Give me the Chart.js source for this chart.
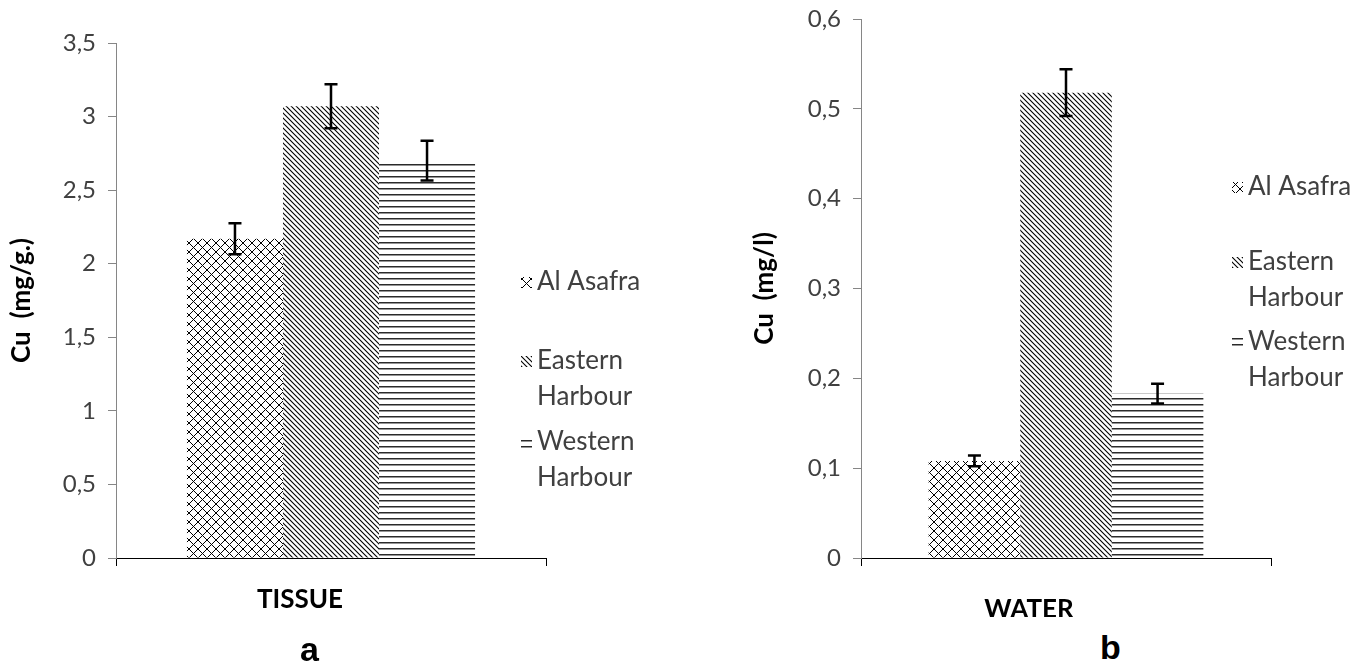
<!DOCTYPE html>
<html>
<head>
<meta charset="utf-8">
<script src="https://cdn.jsdelivr.net/npm/chart.js@4.4.1/dist/chart.umd.min.js"></script>
<style>
  body { margin: 0; background: #fff; width: 1351px; height: 668px; position: relative; overflow: hidden; }
  .panel { position: absolute; top: 0; }
  .tag { position: absolute; font: bold 34px "Liberation Sans", Arial, sans-serif; color: #000; }
</style>
</head>
<body>
<div class="panel" style="left:0;width:700px;height:668px"><canvas id="chartA"></canvas></div>
<div class="panel" style="left:700px;width:651px;height:617px"><canvas id="chartB"></canvas></div>
<div class="tag" style="left:300px;top:630px">a</div>
<div class="tag" style="left:1100px;top:628px">b</div>
<script>
const sites = ["Al Asafra", ["Eastern", "Harbour"], ["Western", "Harbour"]];
const tissueMean = [2.17, 3.07, 2.70];
const tissueErr = [0.105, 0.15, 0.135];
const waterMean = [0.108, 0.518, 0.183];
const waterErr = [0.006, 0.026, 0.011];

const textColor = "#404040";
const axisGray = "#868686";

// small tiles used as fills for the bars and the legend keys
function makePattern(kind) {
  const tile = document.createElement("canvas");
  const t = tile.getContext("2d");
  t.strokeStyle = "#333";
  if (kind === "cross") {
    tile.width = 9; tile.height = 9;
    t.lineWidth = 1;
    t.beginPath();
    t.moveTo(0, 0); t.lineTo(9, 9);
    t.moveTo(9, 0); t.lineTo(0, 9);
    t.stroke();
  } else if (kind === "diag") {
    tile.width = 5; tile.height = 5;
    t.lineWidth = 1.1;
    t.beginPath();
    t.moveTo(-1, -1); t.lineTo(6, 6);
    t.moveTo(4, -1); t.lineTo(6, 1);
    t.moveTo(-1, 4); t.lineTo(1, 6);
    t.stroke();
  } else {
    tile.width = 6; tile.height = 6;
    t.fillStyle = "#2a2a2a";
    t.fillRect(0, 2, 6, 1.5);
  }
  return t.createPattern(tile, "repeat");
}
const fills = [makePattern("cross"), makePattern("diag"), makePattern("lines")];

const errorBars = {
  id: "errorBars",
  afterDatasetsDraw(chart, args, opts) {
    const ctx = chart.ctx;
    const y = chart.scales.y;
    ctx.save();
    ctx.strokeStyle = "#000";
    ctx.lineWidth = 2.5;
    chart.data.datasets.forEach((ds, i) => {
      const bar = chart.getDatasetMeta(i).data[0];
      const v = ds.data[0], e = opts.errors[i];
      const top = y.getPixelForValue(v + e), bot = y.getPixelForValue(v - e);
      ctx.beginPath();
      ctx.moveTo(bar.x, top); ctx.lineTo(bar.x, bot);
      ctx.moveTo(bar.x - 6.5, top); ctx.lineTo(bar.x + 6.5, top);
      ctx.moveTo(bar.x - 6.5, bot); ctx.lineTo(bar.x + 6.5, bot);
      ctx.stroke();
    });
    ctx.restore();
  }
};

const siteLegend = {
  id: "siteLegend",
  afterDraw(chart, args, opts) {
    const ctx = chart.ctx;
    ctx.save();
    ctx.font = "26px Lato";
    ctx.textBaseline = "middle";
    chart.data.datasets.forEach((ds, i) => {
      const lines = [].concat(ds.label);
      const y0 = opts.rows[i];
      ctx.fillStyle = ds.backgroundColor;
      ctx.fillRect(opts.x, y0 - 5, 11, 11);
      ctx.fillStyle = textColor;
      lines.forEach((line, k) => ctx.fillText(line, opts.x + 16, y0 + k * opts.lineHeight));
    });
    ctx.restore();
  }
};

function fmt(value) {
  return String(+value.toFixed(2)).replace(".", ",");
}

function makeChart(id, category, means, errs, cfg) {
  return new Chart(document.getElementById(id), {
    type: "bar",
    data: {
      labels: [category],
      datasets: sites.map((s, i) => ({
        label: s,
        data: [means[i]],
        backgroundColor: fills[i],
        borderWidth: 0,
        categoryPercentage: 0.67,
        barPercentage: 1.0
      }))
    },
    options: {
      responsive: true,
      maintainAspectRatio: false,
      animation: false,
      layout: { padding: { top: cfg.top, right: cfg.right, left: 0, bottom: 0 } },
      plugins: {
        legend: { display: false },
        tooltip: { enabled: false },
        errorBars: { errors: errs },
        siteLegend: { x: cfg.legendX, rows: cfg.legendRows, lineHeight: 36 }
      },
      scales: {
        x: {
          grid: { drawOnChartArea: false, tickLength: 8, color: "#000" },
          border: { color: "#000" },
          ticks: { font: { family: "Lato", size: 26, weight: "bold" }, color: "#000", padding: cfg.labelPad, labelOffset: cfg.labelShift },
          afterFit: (scale) => { scale.height = cfg.xHeight; }
        },
        y: {
          min: 0,
          max: cfg.max,
          ticks: { stepSize: cfg.step, font: { family: "Lato", size: 24 }, color: textColor, padding: 12, callback: fmt },
          grid: { drawOnChartArea: false, tickLength: 8, color: axisGray },
          border: { color: axisGray },
          title: { display: true, text: cfg.title, font: { family: "Lato", size: 26, weight: "bold" }, color: "#000", padding: { top: cfg.titlePad, bottom: 0 } },
          afterFit: (scale) => {
            scale.width = cfg.yWidth;
            // let the top tick label sit closer to the edge
            scale.paddingTop = 12;
          }
        }
      }
    },
    plugins: [errorBars, siteLegend]
  });
}

makeChart("chartA", "TISSUE", tissueMean, tissueErr, {
  top: 43, right: 154, yWidth: 116, xHeight: 110, max: 3.5, step: 0.5,
  title: "Cu  (mg/g.)", titlePad: 6, labelPad: 18, labelShift: -31,
  legendX: 521, legendRows: [282, 361, 442]
});

makeChart("chartB", "WATER", waterMean, waterErr, {
  top: 19, right: 80, yWidth: 161, xHeight: 59, max: 0.6, step: 0.1,
  title: "Cu  (mg/l)", titlePad: 49, labelPad: 28, labelShift: -37,
  legendX: 532, legendRows: [187, 262, 342]
});
</script>
</body>
</html>
